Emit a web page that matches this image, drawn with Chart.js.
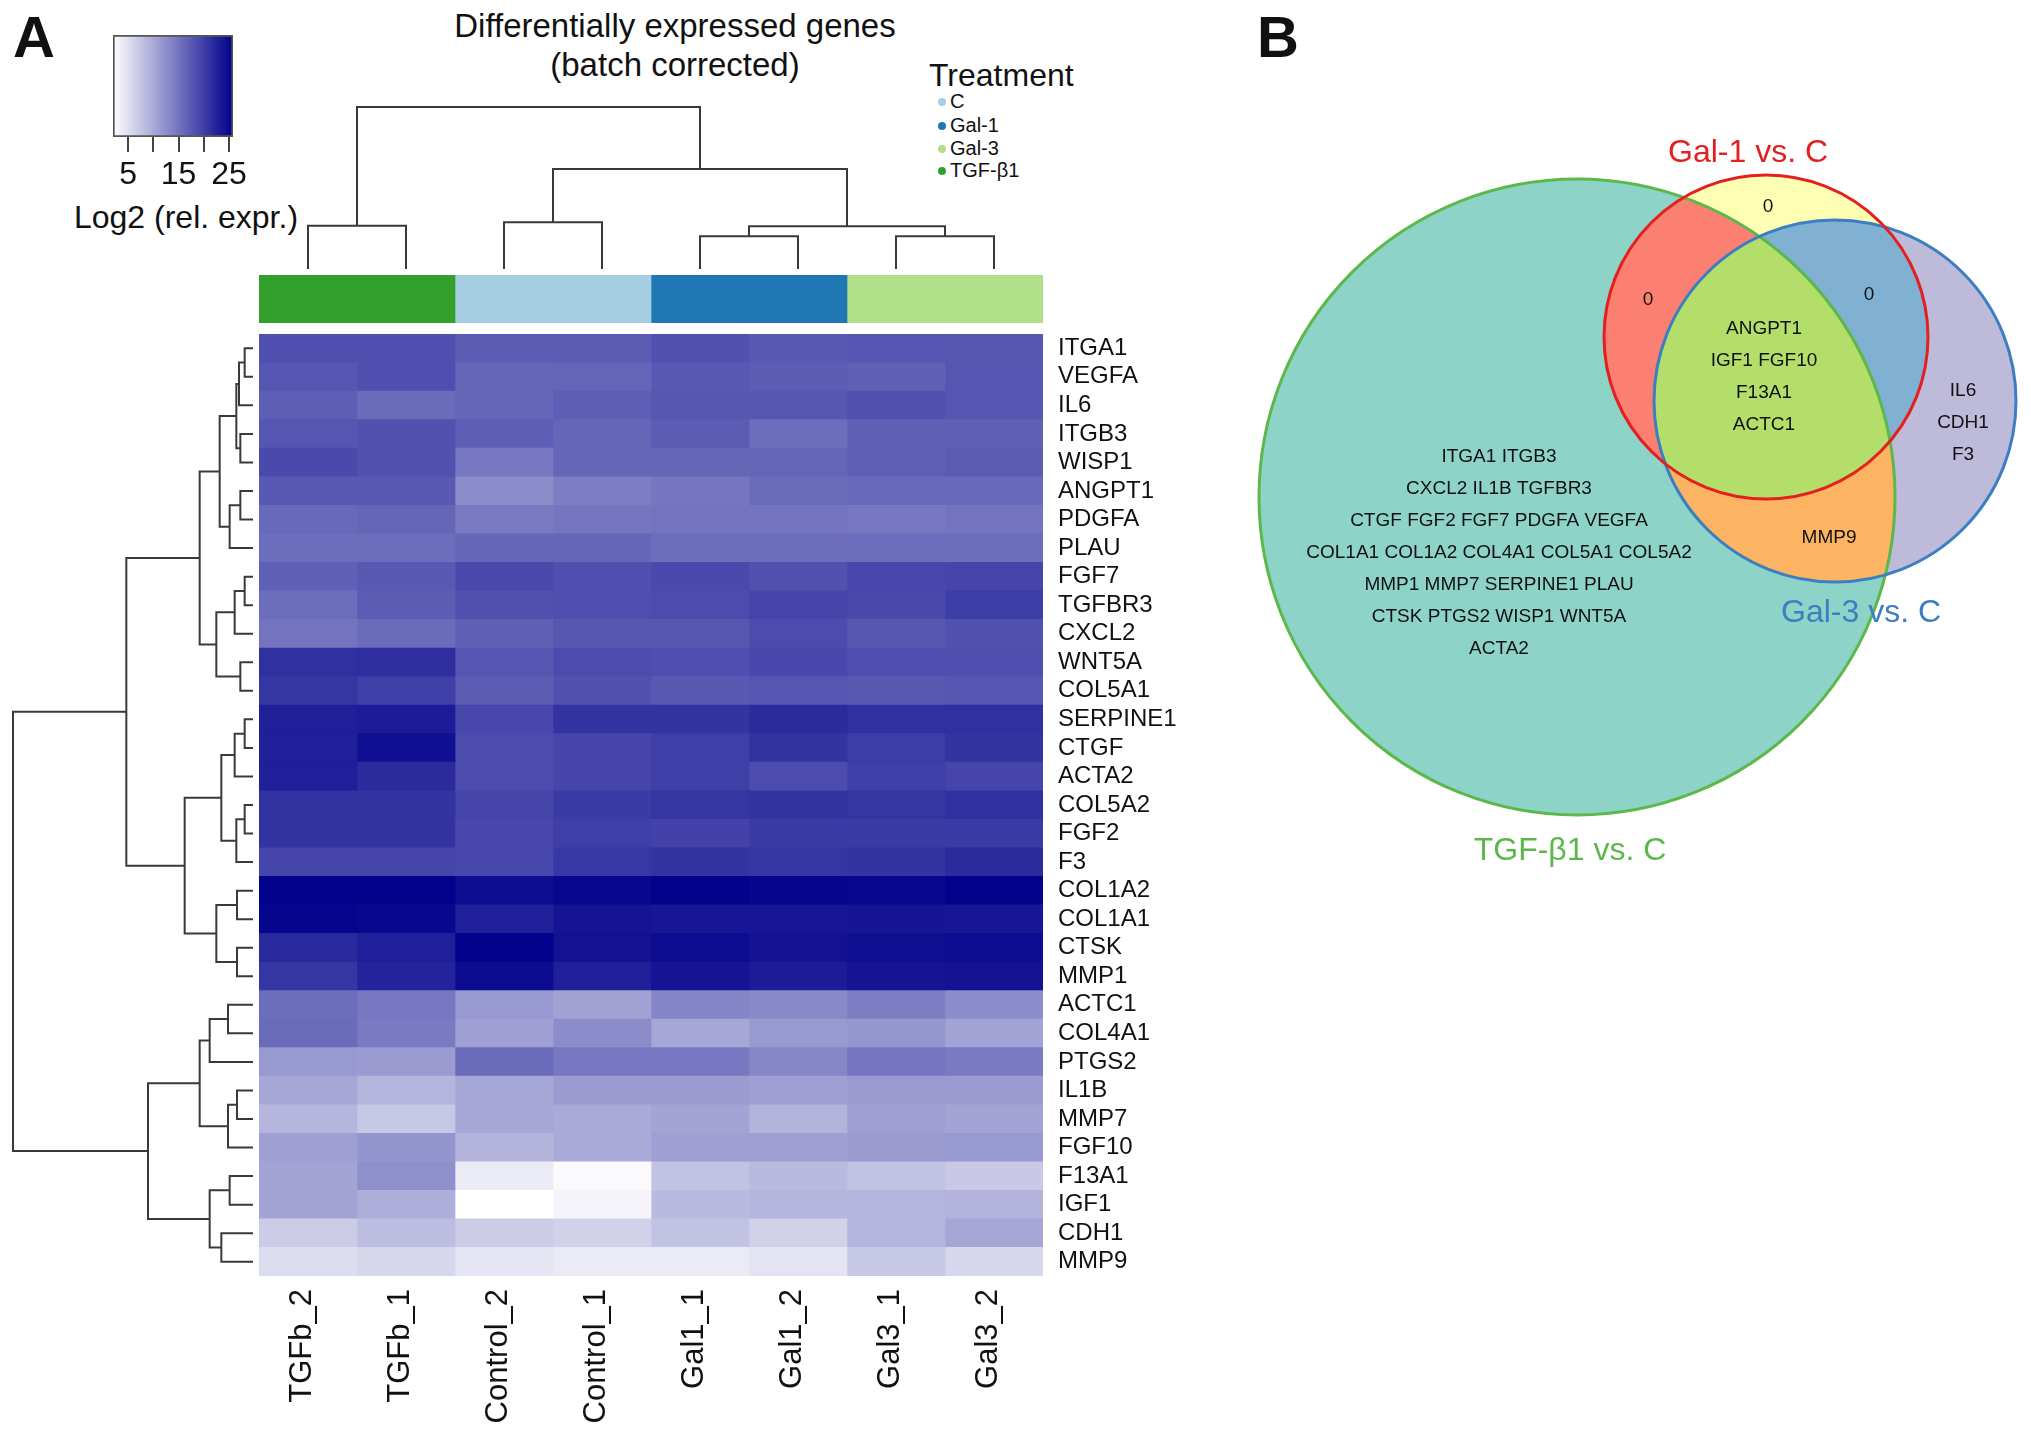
<!DOCTYPE html>
<html><head><meta charset="utf-8">
<script src="https://cdn.jsdelivr.net/npm/chart.js@4.4.1/dist/chart.umd.min.js"></script>
<style>
html,body{margin:0;padding:0;background:#fff;}
#page{position:relative;width:2031px;height:1439px;overflow:hidden;font-family:"Liberation Sans",Arial,Helvetica,sans-serif;color:#111;}
.abs{position:absolute;white-space:nowrap;}
canvas{position:absolute;}
.panel{font-weight:bold;font-size:58px;line-height:58px;}
#title{left:415px;width:520px;top:6px;text-align:center;font-size:33px;line-height:39px;}
#legT{left:929px;top:56px;font-size:32px;line-height:38px;}
#keyT{left:36px;width:300px;top:198px;text-align:center;font-size:32px;line-height:38px;}
.leg{left:950px;font-size:20px;line-height:23px;}
.dot{width:8px;height:8px;border-radius:50%;left:938px;}
</style></head>
<body><div id="page">
<div class="abs panel" style="left:13px;top:8px;">A</div>
<div class="abs panel" style="left:1257px;top:8px;">B</div>
<div class="abs" id="title">Differentially expressed genes<br>(batch corrected)</div>
<div class="abs" id="legT">Treatment</div>
<div class="abs" id="keyT">Log2 (rel. expr.)</div>
<div id="legend"></div>
<canvas id="key" width="270" height="215" style="left:43px;top:25px;width:270px;height:215px;"></canvas>
<canvas id="colDendro" width="804" height="182" style="left:249px;top:97px;width:804px;height:182px;"></canvas>
<canvas id="annot" width="784" height="48" style="left:259px;top:275px;width:784px;height:48px;"></canvas>
<canvas id="rowDendro" width="260" height="962" style="left:3px;top:324px;width:260px;height:962px;"></canvas>
<canvas id="heat" width="964" height="1105" style="left:259px;top:334px;width:964px;height:1105px;"></canvas>
<canvas id="venn" width="801" height="800" style="left:1230px;top:100px;width:801px;height:800px;"></canvas>
</div>
<script>
// ---------------- DATA ----------------
const genes = ['ITGA1','VEGFA','IL6','ITGB3','WISP1','ANGPT1','PDGFA','PLAU','FGF7','TGFBR3','CXCL2',
  'WNT5A','COL5A1','SERPINE1','CTGF','ACTA2','COL5A2','FGF2','F3','COL1A2','COL1A1','CTSK',
  'MMP1','ACTC1','COL4A1','PTGS2','IL1B','MMP7','FGF10','F13A1','IGF1','CDH1','MMP9'];
const samples = ['TGFb_2','TGFb_1','Control_2','Control_1','Gal1_1','Gal1_2','Gal3_1','Gal3_2'];
const sampleTreatment = ['TGF-β1','TGF-β1','C','C','Gal-1','Gal-1','Gal-3','Gal-3'];
const treatments = ['C','Gal-1','Gal-3','TGF-β1'];
const treatmentColors = ['#a6cee3','#1f78b4','#b2df8a','#33a02c'];

// log2 relative expression, one array per sample (rows follow `genes`)
const TGFb_2    = [18.4,17.9,17.0,17.9,18.9,17.5,16.0,15.6,16.8,15.6,15.1, 21.3,20.8,22.9,22.9,22.9,21.0,21.0,19.4,25.6,25.3,22.0, 20.8,15.6,15.8,11.5,10.3,8.9,11.0,10.6,10.6,6.8,5.3];
const TGFb_1    = [18.4,18.4,15.8,18.2,18.2,17.5,16.3,15.6,17.5,17.2,15.8, 21.5,19.9,23.2,24.4,21.8,21.0,21.0,19.4,25.6,25.1,22.9, 22.5,14.6,14.4,11.3,8.9,7.2,12.0,12.5,9.6,8.2,5.8];
const Control_2 = [17.2,16.3,16.3,17.0,14.6,12.7,14.4,16.3,18.9,18.2,16.8, 17.9,17.2,19.1,18.7,18.7,19.4,19.1,19.1,24.6,22.9,25.6, 24.8,11.5,11.0,15.8,10.3,10.3,9.1,3.9,2.0,6.8,4.4];
const Control_1 = [17.2,16.5,17.0,16.3,16.3,14.1,14.9,16.3,18.4,18.4,17.7, 18.7,18.2,21.0,19.4,19.4,20.3,19.9,20.6,25.1,23.9,24.1, 22.9,10.8,12.7,14.6,11.3,9.9,9.9,2.5,3.0,6.3,3.9];
const Gal1_1    = [18.2,17.5,17.7,17.2,16.3,14.9,15.1,15.6,18.9,18.7,17.7, 18.4,17.5,21.0,19.9,19.9,20.8,19.6,21.0,25.6,23.7,24.6, 23.9,13.4,10.3,14.6,11.3,10.6,11.0,7.7,8.4,7.7,3.9];
const Gal1_2    = [17.5,17.2,17.7,15.6,16.3,15.8,15.1,15.6,18.2,19.4,18.7, 19.1,17.9,21.8,21.0,18.7,21.0,20.3,20.8,25.3,23.7,24.1, 23.2,13.0,11.5,13.2,11.0,9.1,11.0,8.4,8.9,6.3,4.6];
const Gal3_1    = [17.9,16.8,18.2,16.8,16.8,16.0,14.6,15.6,19.1,18.9,17.7, 18.4,17.5,21.3,20.1,19.9,20.8,20.3,21.0,25.1,23.9,24.4, 23.9,14.1,11.8,14.9,11.3,11.0,11.3,7.7,8.9,8.9,7.2];
const Gal3_2    = [17.7,17.9,17.9,16.8,17.2,16.0,15.1,15.6,19.4,20.1,18.2, 18.4,17.9,21.3,21.0,19.4,21.3,20.3,21.8,25.6,23.7,24.6, 24.1,12.7,10.6,14.4,11.3,10.6,11.5,7.0,9.1,10.3,5.8];
const sampleValues = [TGFb_2, TGFb_1, Control_2, Control_1, Gal1_1, Gal1_2, Gal3_1, Gal3_2];

// colour key
const KEY_MIN = 2.0, KEY_MAX = 25.8;
const keyTickLabels = [5, 15, 25];

// hierarchical clustering (R hclust style: negative = leaf, positive = earlier merge)
const rowMerges = [
  [-1,-2,25],[1,-3,42],[-4,-5,38],[2,3,50],[-6,-7,38],[5,-8,70],[4,6,100],
  [-9,-10,25],[8,-11,55],[-12,-13,38],[9,10,110],[7,11,160],
  [-14,-15,25],[13,-16,55],[-17,-18,25],[15,-19,50],[14,16,95],
  [-20,-21,48],[-22,-23,48],[18,19,110],[17,20,205],[12,21,380],
  [-24,-25,75],[23,-26,130],[-27,-28,48],[25,-29,75],[24,26,160],
  [-30,-31,70],[-32,-33,95],[28,29,130],[27,30,315],[22,31,720]
];
const colMerges = [[-1,-2,130],[-3,-4,140],[-5,-6,98],[-7,-8,98],[3,4,128],[2,5,300],[1,6,486]];

// Venn diagram
const vennSets = ['TGF-β1 vs. C','Gal-1 vs. C','Gal-3 vs. C'];
const vennCx = [1577, 1766, 1835];
const vennCy = [497, 337, 401];
const vennR  = [318, 162, 181];
const vennStroke = ['#5cb84a','#e3201f','#3b7fc2'];
const vennOnlyFill = ['#8dd3c7','#ffffb3','#bebada'];
const vennPairFill = {'0-1':'#fb8072','0-2':'#fdb462','1-2':'#80b1d3'};
const vennTripleFill = '#b3de69';
const vennSetLabelX = [1570, 1748, 1861];
const vennSetLabelY = [851, 153, 613];
const vennRegionText = [
  ['0'], ['0'], ['0'],
  ['ANGPT1','IGF1 FGF10','F13A1','ACTC1'],
  ['IL6','CDH1','F3'],
  ['MMP9'],
  ['ITGA1 ITGB3','CXCL2 IL1B TGFBR3','CTGF FGF2 FGF7 PDGFA VEGFA','COL1A1 COL1A2 COL4A1 COL5A1 COL5A2','MMP1 MMP7 SERPINE1 PLAU','CTSK PTGS2 WISP1 WNT5A','ACTA2']
];
const vennRegionX = [1768, 1648, 1869, 1764, 1963, 1829, 1499];
const vennRegionY = [207, 300, 295, 377, 423, 538, 553];

// ---------------- HELPERS ----------------
const FONT = '"Liberation Sans", Arial, Helvetica, sans-serif';
Chart.defaults.font.family = FONT;
Chart.defaults.color = '#111';
function heatColor(v){
  const t = Math.min(1, Math.max(0, (v - KEY_MIN) / (KEY_MAX - KEY_MIN)));
  const r = Math.round(255 * (1 - t)), b = Math.round(255 - 116 * t);
  return `rgb(${r},${r},${b})`;
}
function dendroSegments(merges){
  const pos = [], hts = [], segs = [];
  const P = k => k < 0 ? (-k - 1) : pos[k - 1];
  const H = k => k < 0 ? 0 : hts[k - 1];
  merges.forEach(([a, b, h]) => {
    const pa = P(a), pb = P(b);
    segs.push([[H(a), pa], [h, pa], [h, pb], [H(b), pb]]);
    pos.push((pa + pb) / 2); hts.push(h);
  });
  return segs;
}
const noUI = {legend:{display:false}, tooltip:{enabled:false}};

// legend (HTML text)
const legendDiv = document.getElementById('legend');
const legY = [102, 126, 149, 171];
treatments.forEach((t, i) => {
  const d = document.createElement('div'); d.className = 'abs dot';
  d.style.top = (legY[i] - 4) + 'px'; d.style.background = treatmentColors[i];
  legendDiv.appendChild(d);
  const s = document.createElement('div'); s.className = 'abs leg';
  s.style.top = (legY[i] - 12) + 'px'; s.textContent = t;
  legendDiv.appendChild(s);
});

// ---------------- HEATMAP ----------------
new Chart(document.getElementById('heat'), {
  type: 'bar',
  data: {
    labels: genes,
    datasets: samples.map((s, j) => ({
      label: s, data: genes.map(() => 1),
      backgroundColor: sampleValues[j].map(heatColor),
      borderWidth: 0, barPercentage: 1, categoryPercentage: 1, xAxisID: 'x', yAxisID: 'y'
    }))
  },
  options: {
    indexAxis: 'y', responsive: false, animation: false, events: [],
    plugins: noUI, layout: {padding: 0},
    scales: {
      x: {type: 'linear', stacked: true, min: 0, max: samples.length, display: false},
      xl: {type: 'category', axis: 'x', labels: samples, position: 'bottom', offset: true,
        grid: {display: false, drawTicks: false}, border: {display: false},
        ticks: {minRotation: 90, maxRotation: 90, autoSkip: false, font: {size: 31}, color: '#111', padding: 13, labelOffset: -6},
        afterFit: s => { s.height = 163; s.paddingLeft = 0; s.paddingRight = 0; }},
      y: {type: 'category', position: 'right', stacked: true, offset: true,
        grid: {display: false, drawTicks: false}, border: {display: false},
        ticks: {autoSkip: false, font: {size: 24}, color: '#111', padding: 15},
        afterFit: s => { s.width = 180; s.paddingTop = 0; s.paddingBottom = 0; }}
    }
  }
});

// ---------------- TREATMENT BAR ----------------
new Chart(document.getElementById('annot'), {
  type: 'bar',
  data: {labels: ['Treatment'], datasets: samples.map((s, j) => ({
    label: s, data: [1], backgroundColor: treatmentColors[treatments.indexOf(sampleTreatment[j])],
    borderWidth: 0, barPercentage: 1, categoryPercentage: 1}))},
  options: {indexAxis: 'y', responsive: false, animation: false, events: [], plugins: noUI, layout: {padding: 0},
    scales: {x: {type: 'linear', stacked: true, min: 0, max: samples.length, display: false},
             y: {stacked: true, display: false}}}
});

// ---------------- DENDROGRAMS ----------------
const lineDs = pts => ({data: pts, showLine: true, borderColor: '#3a3a3a', borderWidth: 2,
  pointRadius: 0, fill: false, tension: 0, clip: false});
new Chart(document.getElementById('rowDendro'), {
  type: 'scatter',
  data: {datasets: dendroSegments(rowMerges).map(seg => lineDs(seg.map(([h, p]) => ({x: h, y: p}))))},
  options: {responsive: false, animation: false, events: [], plugins: noUI,
    layout: {padding: 10},
    scales: {x: {type: 'linear', min: 0, max: rowMerges[rowMerges.length - 1][2], reverse: true, display: false},
             y: {type: 'linear', min: -0.5, max: genes.length - 0.5, reverse: true, display: false}}}
});
new Chart(document.getElementById('colDendro'), {
  type: 'scatter',
  data: {datasets: dendroSegments(colMerges).map(seg => lineDs(seg.map(([h, p]) => ({x: p, y: h}))))},
  options: {responsive: false, animation: false, events: [], plugins: noUI,
    layout: {padding: 10},
    scales: {x: {type: 'linear', min: -0.5, max: samples.length - 0.5, display: false},
             y: {type: 'linear', min: 0, max: colMerges[colMerges.length - 1][2], display: false}}}
});

// ---------------- COLOUR KEY ----------------
function keyGradient(chart){
  const xs = chart.scales.x;
  if (!xs || !chart.chartArea) return heatColor((KEY_MIN + KEY_MAX) / 2);
  const x0 = xs.getPixelForValue(KEY_MIN), x1 = xs.getPixelForValue(KEY_MAX);
  const g = chart.ctx.createLinearGradient(x0, 0, x1, 0);
  for (let i = 0; i <= 20; i++) {
    const v = KEY_MIN + (KEY_MAX - KEY_MIN) * i / 20;
    g.addColorStop(i / 20, heatColor(v));
  }
  return g;
}
new Chart(document.getElementById('key'), {
  type: 'bar',
  data: {labels: [''], datasets: [{data: [[KEY_MIN, KEY_MAX]], backgroundColor: c => keyGradient(c.chart),
    borderColor: '#555', borderWidth: 2, borderSkipped: false, barPercentage: 1, categoryPercentage: 1}]},
  options: {indexAxis: 'y', responsive: false, animation: false, events: [], plugins: noUI,
    layout: {padding: {left: 70, right: 80, top: 10, bottom: 0}},
    scales: {
      x: {type: 'linear', min: KEY_MIN, max: KEY_MAX,
        grid: {drawOnChartArea: false, drawTicks: true, tickLength: 15, color: '#444', lineWidth: 2},
        border: {display: false},
        ticks: {stepSize: 5, includeBounds: false, autoSkip: false, maxRotation: 0,
          callback: v => keyTickLabels.includes(v) ? String(v) : '', font: {size: 32}, color: '#111', padding: 4},
        afterFit: s => { s.height = 103; s.paddingLeft = 0; s.paddingRight = 0; }},
      y: {display: false}
    }}
});

// ---------------- VENN ----------------
const vennPlugin = {
  id: 'vennRegions',
  _circles(chart){
    const {scales: {x: xs, y: ys}} = chart;
    return vennCx.map((cx, i) => ({x: xs.getPixelForValue(cx), y: ys.getPixelForValue(vennCy[i]),
      r: Math.abs(xs.getPixelForValue(cx + vennR[i]) - xs.getPixelForValue(cx))}));
  },
  beforeDatasetsDraw(chart){
    const {ctx} = chart;
    const C = this._circles(chart);
    const path = i => { ctx.beginPath(); ctx.arc(C[i].x, C[i].y, C[i].r, 0, Math.PI * 2); };
    const W = chart.width, Hh = chart.height;
    ctx.save();
    [0, 1, 2].forEach(i => { path(i); ctx.fillStyle = vennOnlyFill[i]; ctx.fill(); });
    const fillClip = (ids, col) => {
      ctx.save(); ids.forEach(i => { path(i); ctx.clip(); });
      ctx.fillStyle = col; ctx.fillRect(0, 0, W, Hh); ctx.restore();
    };
    fillClip([1, 2], vennPairFill['1-2']);
    fillClip([0, 1], vennPairFill['0-1']);
    fillClip([0, 2], vennPairFill['0-2']);
    fillClip([0, 1, 2], vennTripleFill);
    ctx.restore();
  },
  afterDatasetsDraw(chart){
    const {ctx, scales: {x: xs, y: ys}} = chart;
    const C = this._circles(chart);
    ctx.save();
    [0, 2, 1].forEach(i => {
      ctx.beginPath(); ctx.arc(C[i].x, C[i].y, C[i].r, 0, Math.PI * 2);
      ctx.strokeStyle = vennStroke[i]; ctx.lineWidth = 3; ctx.stroke();
    });
    ctx.textAlign = 'center'; ctx.textBaseline = 'middle';
    ctx.font = '19px ' + FONT; ctx.fillStyle = '#111';
    vennRegionText.forEach((lines, k) => {
      const lh = 32, n = lines.length;
      lines.forEach((t, j) => {
        ctx.fillText(t, xs.getPixelForValue(vennRegionX[k]), ys.getPixelForValue(vennRegionY[k] + (j - (n - 1) / 2) * lh));
      });
    });
    ctx.font = '32px ' + FONT;
    vennSets.forEach((s, i) => {
      ctx.fillStyle = vennStroke[i];
      ctx.fillText(s, xs.getPixelForValue(vennSetLabelX[i]), ys.getPixelForValue(vennSetLabelY[i]));
    });
    ctx.restore();
  }
};
new Chart(document.getElementById('venn'), {
  type: 'scatter',
  data: {datasets: [{label: 'set centres', data: vennCx.map((cx, i) => ({x: cx, y: vennCy[i]})),
    pointRadius: 0, pointBorderWidth: 0, pointHoverRadius: 0, showLine: false}]},
  options: {responsive: false, animation: false, events: [], plugins: noUI, layout: {padding: 0},
    scales: {x: {type: 'linear', min: 1230, max: 2031, display: false},
             y: {type: 'linear', min: 100, max: 900, reverse: true, display: false}}},
  plugins: [vennPlugin]
});
</script>
</body></html>
